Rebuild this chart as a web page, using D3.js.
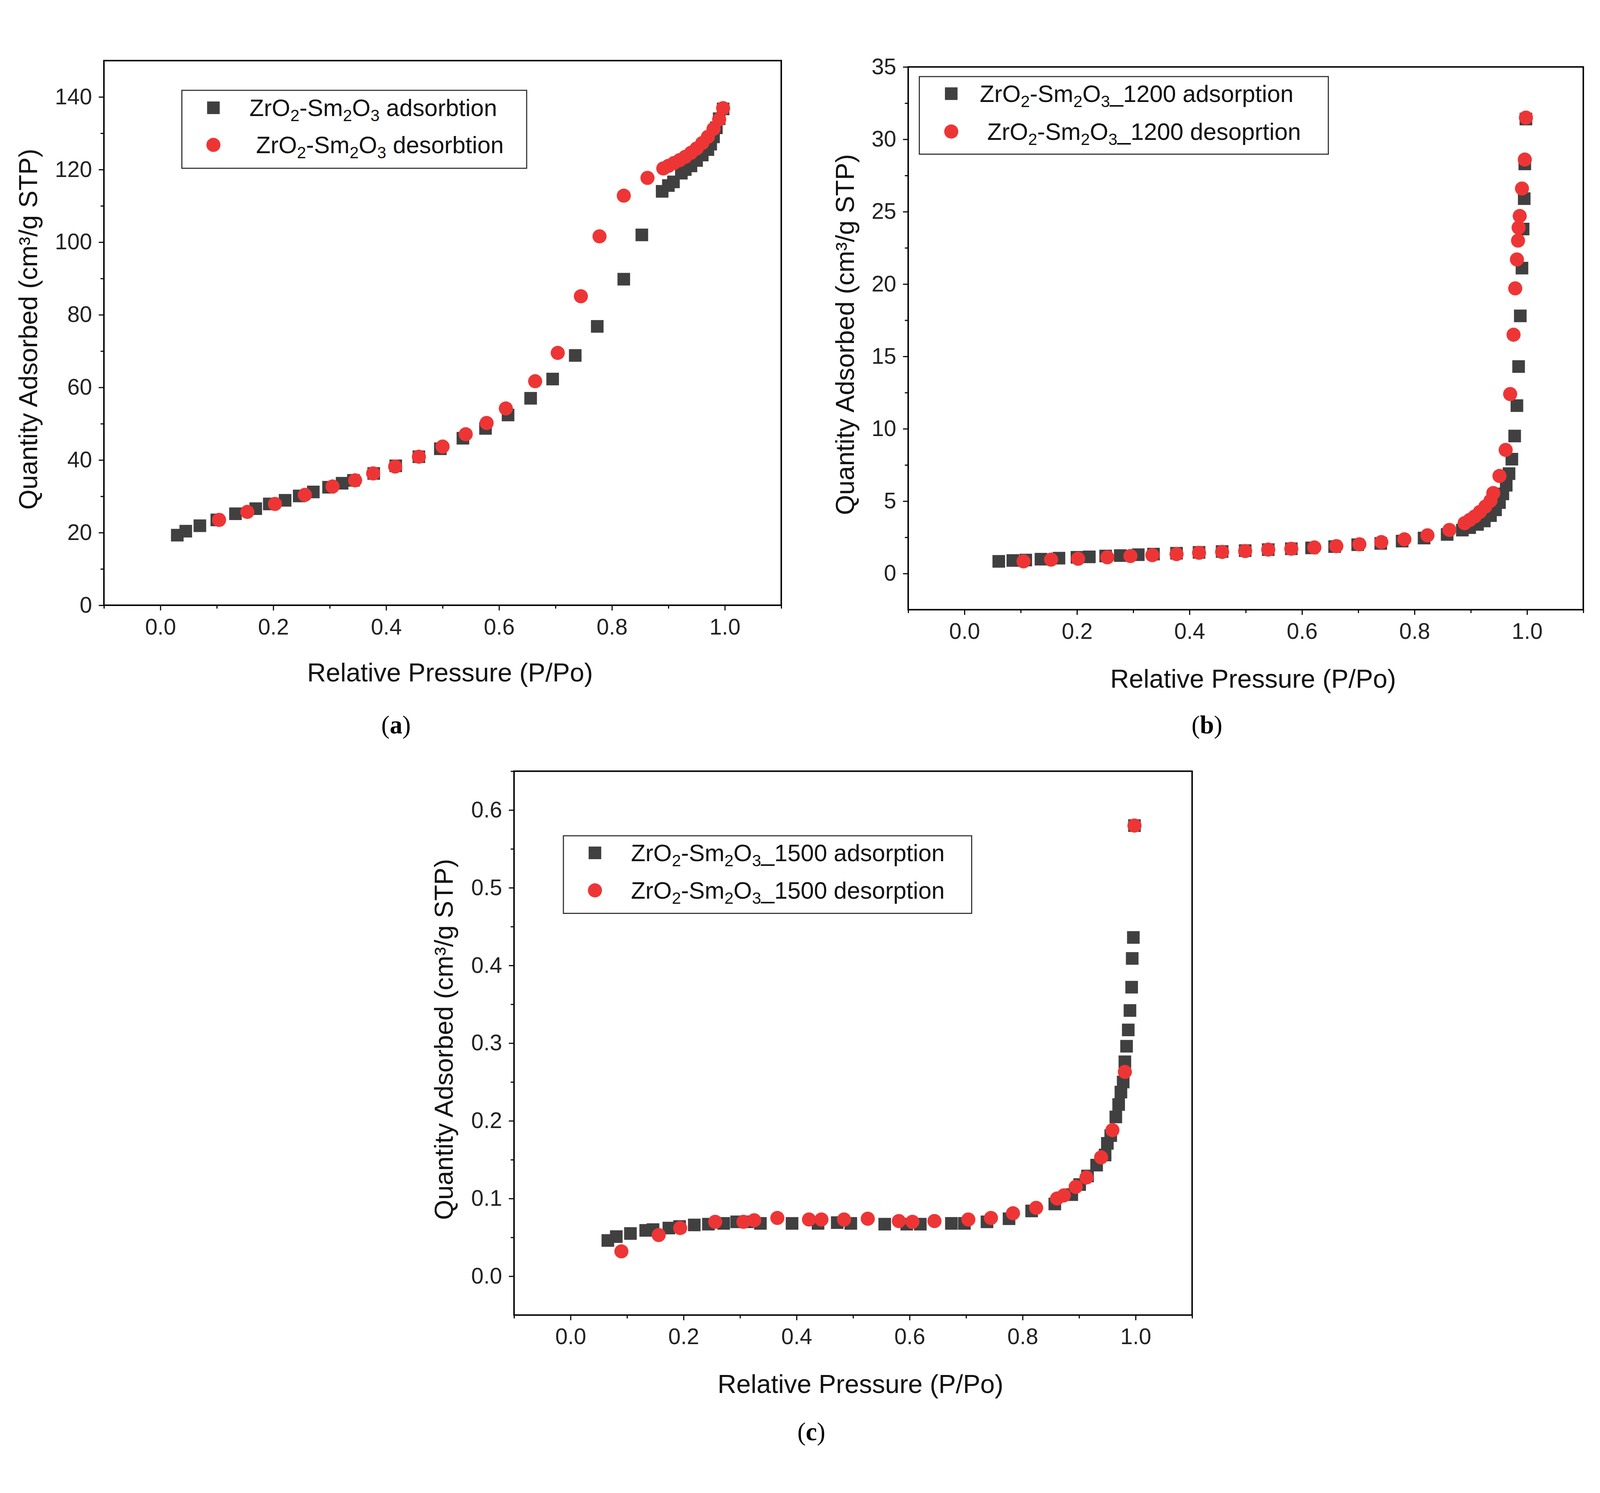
<!DOCTYPE html>
<html><head><meta charset="utf-8">
<script src="https://cdn.jsdelivr.net/npm/d3@7"></script>
<style>html,body{margin:0;padding:0;background:#fff;overflow:hidden}svg{display:block;width:100vw;height:100vh}text{font-family:"Liberation Sans",Arial,sans-serif}</style>
</head><body>
<svg id="c" viewBox="0 0 4311 3821" preserveAspectRatio="xMidYMid meet"></svg>
<script>
// panel a
const aAdsX = [0.030,0.045,0.070,0.100,0.133,0.169,0.193,0.221,0.246,0.271,0.298,0.322,0.342,0.378,0.417,0.458,0.496,0.536,0.576,0.616,0.656,0.695,0.735,0.774,0.821,0.853,0.889,0.900,0.909,0.923,0.930,0.940,0.950,0.960,0.970,0.975,0.980,0.985,0.990,0.997];
const aAdsY = [19.3,20.4,21.9,23.5,25.2,26.6,27.9,28.9,30.1,31.2,32.5,33.6,34.4,36.3,38.4,40.9,43.1,46.0,48.7,52.4,57.0,62.3,68.8,76.8,89.8,102,114,115.6,116.6,119,120,121,122.5,124,125.5,127,129,131.5,134,136.7];
const aDesX = [0.104,0.154,0.203,0.256,0.305,0.345,0.377,0.416,0.458,0.500,0.541,0.578,0.612,0.664,0.704,0.745,0.778,0.821,0.863,0.891,0.900,0.910,0.920,0.930,0.940,0.950,0.960,0.970,0.980,0.990,0.997];
const aDesY = [23.5,25.7,27.9,30.4,32.7,34.4,36.3,38.2,40.9,43.7,47.1,50.2,54.2,61.7,69.5,85.1,101.6,112.8,117.7,120.3,121,121.8,122.6,123.5,124.6,125.8,127.3,129,131.2,133.8,136.9];
// panel b
const bAdsX = [0.061,0.086,0.109,0.136,0.168,0.200,0.222,0.251,0.277,0.309,0.336,0.377,0.417,0.458,0.499,0.540,0.581,0.617,0.658,0.699,0.740,0.778,0.817,0.858,0.885,0.898,0.912,0.924,0.935,0.944,0.951,0.957,0.963,0.968,0.973,0.978,0.982,0.985,0.988,0.991,0.993,0.995,0.996,0.998];
const bAdsY = [0.84,0.9,0.93,0.99,1.06,1.12,1.15,1.21,1.24,1.3,1.34,1.4,1.46,1.52,1.58,1.65,1.71,1.77,1.86,1.99,2.08,2.24,2.45,2.7,3.0,3.17,3.39,3.63,4.0,4.4,4.9,5.5,6.1,6.9,7.9,9.5,11.6,14.3,17.8,21.1,23.8,25.9,28.3,31.4];
const bDesX = [0.105,0.154,0.202,0.254,0.295,0.334,0.377,0.417,0.458,0.499,0.540,0.581,0.622,0.661,0.702,0.741,0.782,0.823,0.862,0.889,0.898,0.907,0.916,0.926,0.935,0.940,0.951,0.962,0.970,0.976,0.979,0.982,0.984,0.985,0.987,0.991,0.996,0.998];
const bDesY = [0.84,0.96,1.02,1.12,1.21,1.27,1.34,1.43,1.49,1.55,1.65,1.71,1.8,1.89,2.02,2.17,2.36,2.64,3.01,3.48,3.7,3.94,4.25,4.63,5.03,5.56,6.74,8.54,12.4,16.5,19.7,21.7,23.0,23.9,24.7,26.6,28.6,31.5];
// panel c
const cAdsX = [0.066,0.081,0.106,0.133,0.146,0.174,0.193,0.219,0.244,0.271,0.294,0.313,0.336,0.392,0.438,0.472,0.496,0.556,0.595,0.619,0.674,0.697,0.737,0.776,0.816,0.857,0.887,0.901,0.915,0.931,0.946,0.950,0.956,0.965,0.970,0.974,0.978,0.981,0.984,0.987,0.990,0.993,0.994,0.996,0.998];
const cAdsY = [0.046,0.051,0.055,0.059,0.06,0.062,0.064,0.066,0.067,0.068,0.07,0.07,0.068,0.068,0.068,0.069,0.068,0.067,0.067,0.067,0.068,0.068,0.07,0.074,0.084,0.093,0.105,0.118,0.129,0.143,0.156,0.171,0.181,0.205,0.221,0.237,0.25,0.276,0.296,0.317,0.342,0.372,0.409,0.436,0.58];
const cDesX = [0.090,0.156,0.194,0.256,0.306,0.325,0.366,0.422,0.444,0.484,0.526,0.581,0.605,0.644,0.704,0.744,0.783,0.824,0.861,0.873,0.894,0.913,0.939,0.959,0.981,0.998];
const cDesY = [0.032,0.053,0.062,0.07,0.07,0.072,0.075,0.073,0.073,0.073,0.074,0.071,0.07,0.071,0.073,0.075,0.081,0.088,0.1,0.104,0.115,0.127,0.153,0.188,0.263,0.58];

const xTicks = [0, 0.2, 0.4, 0.6, 0.8, 1.0];
const GREY = "#404040", RED = "#ee3535";
const svg = d3.select("#c");

const panels = [
  {x0:280, x1:2105, y0:63, y1:1530, yDom:[0,150], yTicks:d3.range(0,141,20), yMinor:d3.range(10,150,20), yFmt:d3.format("d"),
   ads:[aAdsX,aAdsY], des:[aDesX,aDesY], suffix:["", ""], words:[" adsorbtion"," desorbtion"],
   leg:{x0:490,x1:1419,y0:143,y1:353,mx:575,r:[190,290],tx:[672,690]}, ytx:76, xtB:1735, lab:"a", labX:1067, labY:1875},
  {x0:2447, x1:4266, y0:80, y1:1542, yDom:[-2.5,35], yTicks:d3.range(0,36,5), yMinor:d3.range(2.5,35,5), yFmt:d3.format("d"),
   ads:[bAdsX,bAdsY], des:[bDesX,bDesY], suffix:["_1200","_1200"], words:[" adsorption"," desoprtion"],
   leg:{x0:2477,x1:3579,y0:106,y1:315,mx:2563,r:[152,254],tx:[2640,2660]}, ytx:2277, xtB:1752, lab:"b", labX:3252, labY:1875},
  {x0:1385, x1:3212, y0:1977, y1:3442, yDom:[-0.05,0.65], yTicks:d3.range(0,7).map(d=>d/10), yMinor:d3.range(0,7).map(d=>d/10+0.05), yFmt:d3.format(".1f"),
   ads:[cAdsX,cAdsY], des:[cDesX,cDesY], suffix:["_1500","_1500"], words:[" adsorption"," desorption"],
   leg:{x0:1518,x1:2618,y0:2151,y1:2360,mx:1603,r:[2197,2298],tx:[1700,1700]}, ytx:1196, xtB:3652, lab:"c", labX:2186, labY:3779}
];

function formula(t, suffix, word) {
  const parts = [["ZrO",0],["2",1],["-Sm",0],["2",1],["O",0],["3",1],[suffix+word,0]];
  let prev = 0;
  parts.forEach(([s,sub]) => {
    const ts = t.append("tspan").text(s);
    if (sub) ts.attr("font-size", 44).attr("dy", 14);
    else ts.attr("dy", prev ? -14 : 0);
    prev = sub;
  });
}

panels.forEach(p => {
  const x = d3.scaleLinear().domain([-0.1, 1.1]).range([p.x0, p.x1]);
  const y = d3.scaleLinear().domain(p.yDom).range([p.y1, p.y0]);
  const g = svg.append("g");
  g.append("rect").attr("x",p.x0).attr("y",p.y0).attr("width",p.x1-p.x0).attr("height",p.y1-p.y0)
    .attr("fill","none").attr("stroke","#000").attr("stroke-width",4);

  g.append("g").attr("transform",`translate(0,${p.y1})`)
    .call(d3.axisBottom(x).tickValues(xTicks).tickFormat(d3.format(".1f")).tickSize(14).tickPadding(22));
  g.append("g").attr("transform",`translate(0,${p.y1})`)
    .call(d3.axisBottom(x).tickValues(d3.range(-0.1,1.11,0.2)).tickFormat("").tickSize(9));
  g.append("g").attr("transform",`translate(${p.x0},0)`)
    .call(d3.axisLeft(y).tickValues(p.yTicks).tickFormat(p.yFmt).tickSize(14).tickPadding(18));
  g.append("g").attr("transform",`translate(${p.x0},0)`)
    .call(d3.axisLeft(y).tickValues(p.yMinor).tickFormat("").tickSize(9));
  g.selectAll(".domain").remove();
  g.selectAll(".tick line").attr("stroke","#000").attr("stroke-width",3);
  g.selectAll(".tick text").attr("font-size",60).attr("fill","#222").style("font-family","Liberation Sans, Arial, sans-serif");

  g.append("text").attr("x",(x(0)+x(1))/2+20).attr("y",p.xtB).attr("text-anchor","middle")
    .attr("font-size",70).attr("fill","#111").text("Relative Pressure (P/Po)");
  g.append("text").attr("transform",`translate(${p.ytx + 24},${(p.y0+p.y1)/2 - 10}) rotate(-90)`)
    .attr("text-anchor","middle").attr("font-size",70).attr("fill","#111").text("Quantity Adsorbed (cm³/g STP)");

  const s = 34;
  g.selectAll(".sq").data(d3.zip(...p.ads)).join("rect")
    .attr("x",d=>x(d[0])-s/2).attr("y",d=>y(d[1])-s/2).attr("width",s).attr("height",s).attr("fill",GREY);
  g.selectAll(".ci").data(d3.zip(...p.des)).join("circle")
    .attr("cx",d=>x(d[0])).attr("cy",d=>y(d[1])).attr("r",19).attr("fill",RED);

  const L = p.leg;
  g.append("rect").attr("x",L.x0).attr("y",L.y0).attr("width",L.x1-L.x0).attr("height",L.y1-L.y0)
    .attr("fill","#fff").attr("stroke","#333").attr("stroke-width",3);
  g.append("rect").attr("x",L.mx-s/2).attr("y",L.r[0]-s/2).attr("width",s).attr("height",s).attr("fill",GREY);
  g.append("circle").attr("cx",L.mx).attr("cy",L.r[1]).attr("r",19).attr("fill",RED);
  [0,1].forEach(i => {
    const t = g.append("text").attr("x",L.tx[i]).attr("y",L.r[i]+22).attr("font-size",64).attr("fill","#111");
    formula(t, p.suffix[i], p.words[i]);
  });

  const lt = g.append("text").attr("x",p.labX).attr("y",p.labY).attr("text-anchor","middle")
    .attr("font-size",68).style("font-family","Liberation Serif, Times New Roman, serif");
  lt.append("tspan").text("(");
  lt.append("tspan").attr("font-weight","bold").text(p.lab);
  lt.append("tspan").text(")");
});
</script>
</body></html>
